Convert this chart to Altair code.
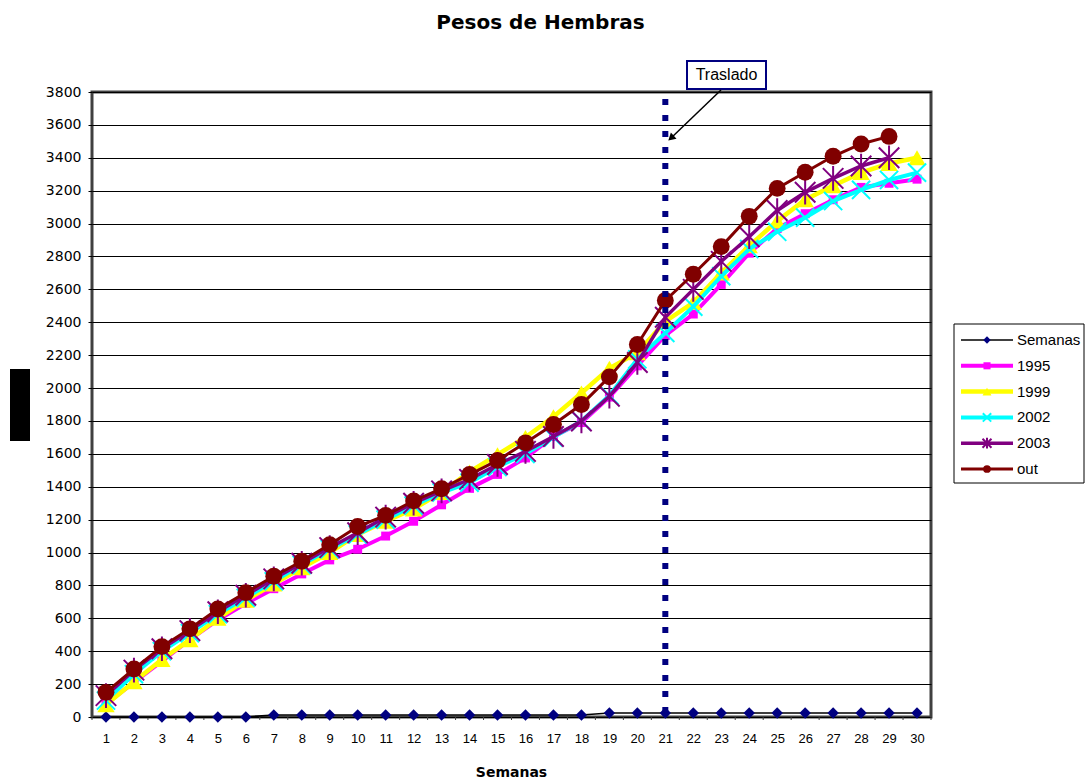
import altair as alt
import pandas as pd

# ---------------- data ----------------
weeks = [1, 2, 3, 4, 5, 6, 7, 8, 9, 10, 11, 12, 13, 14, 15,
         16, 17, 18, 19, 20, 21, 22, 23, 24, 25, 26, 27, 28, 29, 30]
semanas = [0, 0, 0, 0, 0, 0, 12, 12, 12, 12, 12, 12, 12, 12, 12,
           12, 12, 12, 24, 24, 24, 24, 24, 24, 24, 24, 24, 24, 24, 24]
peso_1995 = [80, 210, 340, 470, 590, 690, 780, 870, 955, 1020, 1100, 1190, 1290, 1390, 1475,
             1575, 1705, 1790, 1945, 2135, 2320, 2450, 2630, 2820, 2970, 3060, 3145, 3220, 3245, 3270]
peso_1999 = [75, 215, 350, 470, 600, 710, 808, 908, 1000, 1110, 1190, 1265, 1365, 1490, 1595,
             1700, 1825, 1970, 2120, 2215, 2405, 2520, 2700, 2865, 3015, 3145, 3230, 3310, 3365, 3400]
peso_2002 = [100, 260, 400, 510, 625, 725, 825, 925, 1020, 1110, 1200, 1285, 1365, 1425, 1520,
             1600, 1700, 1800, 1955, 2175, 2335, 2495, 2680, 2845, 2950, 3036, 3137, 3205, 3265, 3310]
peso_2003 = [130, 285, 415, 525, 640, 740, 840, 935, 1030, 1120, 1215, 1300, 1375, 1445, 1535,
             1615, 1705, 1800, 1950, 2155, 2430, 2600, 2770, 2920, 3080, 3190, 3275, 3350, 3400]
peso_out = [150, 292, 428, 536, 657, 756, 856, 947, 1048, 1158, 1226, 1314, 1388, 1474, 1560,
            1667, 1778, 1900, 2068, 2265, 2533, 2692, 2860, 3044, 3214, 3312, 3409, 3484, 3530]
series_names = ["Semanas", "1995", "1999", "2002", "2003", "out"]
y_ticks = [0, 200, 400, 600, 800, 1000, 1200, 1400, 1600, 1800, 2000,
           2200, 2400, 2600, 2800, 3000, 3200, 3400, 3600, 3800]
traslado_week = [21]
chart_title = "Pesos de Hembras"
x_title = "Semanas"
note_text = "Traslado"

series_values = dict(zip(series_names, [semanas, peso_1995, peso_1999, peso_2002, peso_2003, peso_out]))
long_df = pd.DataFrame([
    {"serie": n, "semana": w, "peso": v}
    for n in series_names for w, v in zip(weeks, series_values[n])
])
bounds_df = pd.DataFrame({"semana": [w - 0.5 for w in weeks] + [weeks[-1] + 0.5]})
traslado_df = pd.DataFrame({"semana": traslado_week})
legend_df = pd.DataFrame({"serie": series_names})
one_df = pd.DataFrame({"k": [0]})

# ---------------- styles ----------------
X_PATH = "M-1,-1L1,1M-1,1L1,-1"
AST_PATH = "M-1,-1L1,1M-1,1L1,-1M0,-1.2L0,1.2"
styles = {
    "Semanas": dict(line="#000000", lw=1.6, shape="diamond", mcol="#000080", filled=True, size=130, lsize=55),
    "1995": dict(line="#FF00FF", lw=4, shape="square", mcol="#FF00FF", filled=True, size=80, lsize=50),
    "1999": dict(line="#FFFF00", lw=4.5, shape="triangle-up", mcol="#FFFF00", filled=True, size=300, lsize=80),
    "2002": dict(line="#00FFFF", lw=4, shape=X_PATH, mcol="#00FFFF", filled=False, size=330, lsize=70),
    "2003": dict(line="#800080", lw=3.5, shape=AST_PATH, mcol="#800080", filled=False, size=420, lsize=80),
    "out": dict(line="#800000", lw=3, shape="circle", mcol="#800000", filled=True, size=285, lsize=60),
}

W, H = 839, 625

x_enc = alt.X(
    "semana:Q",
    scale=alt.Scale(domain=[0.5, 30.5], nice=False, zero=False),
    axis=alt.Axis(values=weeks, title=x_title, grid=False, domain=False, ticks=False, tickSize=0,
                  labelPadding=15, labelFont="Liberation Sans", labelFontSize=13, labelColor="black",
                  labelFlush=False, labelOverlap=False, format="d",
                  titleFont="DejaVu Sans", titleFontSize=14, titleFontWeight="bold", titleColor="black",
                  titleX=419, titleY=59, titleBaseline="alphabetic", titleAlign="center"),
)
y_enc = alt.Y(
    "peso:Q",
    scale=alt.Scale(domain=[0, 3800], nice=False, zero=True),
    axis=alt.Axis(values=y_ticks, title=None, grid=True, gridColor="black", gridWidth=1, gridOpacity=1,
                  domain=False, tickSize=4, tickColor="black", labelPadding=7,
                  labelFont="DejaVu Sans", labelFontSize=14, labelColor="black", format="d",
                  labelOverlap=False, labelFlush=False),
)

main_layers = []
# x-axis boundary ticks
main_layers.append(
    alt.Chart(bounds_df).mark_rule(color="#404040", strokeWidth=1).encode(
        x=x_enc, y=alt.value(H), y2=alt.value(H + 3))
)
for name in series_names:
    st = styles[name]
    base = alt.Chart(long_df).transform_filter(alt.datum.serie == name)
    main_layers.append(base.mark_line(color=st["line"], strokeWidth=st["lw"]).encode(x=x_enc, y=y_enc))
    if st["filled"]:
        pt = base.mark_point(shape=st["shape"], filled=True, color=st["mcol"], size=st["size"], opacity=1)
    else:
        pt = base.mark_point(shape=st["shape"], filled=False, color=st["mcol"], size=st["size"],
                             strokeWidth=2, opacity=1)
    main_layers.append(pt.encode(x=x_enc, y=y_enc))

# vertical "Traslado" line
main_layers.append(
    alt.Chart(traslado_df).mark_rule(color="#000080", strokeWidth=6, strokeDash=[6, 10],
                                     strokeDashOffset=9, strokeCap="butt").encode(
        x=x_enc, y=alt.value(0), y2=alt.value(H))
)
# annotation box, text and arrow
main_layers.append(
    alt.Chart(one_df).mark_rect(fill="white", stroke="#000080", strokeWidth=2).encode(
        x=alt.value(595), x2=alt.value(674), y=alt.value(-31), y2=alt.value(-3))
)
main_layers.append(
    alt.Chart(one_df).mark_text(text=note_text, font="Liberation Sans", fontSize=16, color="black",
                                align="center", baseline="middle").encode(
        x=alt.value(634.5), y=alt.value(-17))
)
main_layers.append(
    alt.Chart(one_df).mark_rule(color="black", strokeWidth=1.5).encode(
        x=alt.value(629), y=alt.value(-2), x2=alt.value(578), y2=alt.value(47))
)
main_layers.append(
    alt.Chart(one_df).mark_point(shape="triangle-up", filled=True, color="black", size=70, angle=228,
                                 opacity=1).encode(x=alt.value(579), y=alt.value(46))
)
# black block left of the axis
main_layers.append(
    alt.Chart(one_df).mark_rect(color="black").encode(
        x=alt.value(-82), x2=alt.value(-62), y=alt.value(277), y2=alt.value(349))
)
main = alt.layer(*main_layers)

# ---------------- legend ----------------
ly = alt.Y("serie:N", scale=alt.Scale(type="point", domain=series_names, range=[248, 377], padding=0),
           axis=None)
legend_layers = [
    alt.Chart(one_df).mark_rect(fill="white", stroke="black", strokeWidth=1).encode(
        x=alt.value(862), x2=alt.value(992), y=alt.value(232), y2=alt.value(391))
]
for name in series_names:
    st = styles[name]
    base = alt.Chart(legend_df).transform_filter(alt.datum.serie == name)
    legend_layers.append(base.mark_rule(color=st["line"], strokeWidth=st["lw"]).encode(
        x=alt.value(869), x2=alt.value(921), y=ly))
    if st["filled"]:
        pt = base.mark_point(shape=st["shape"], filled=True, color=st["mcol"], size=st["lsize"], opacity=1)
    else:
        pt = base.mark_point(shape=st["shape"], filled=False, color=st["mcol"], size=st["lsize"],
                             strokeWidth=2, opacity=1)
    legend_layers.append(pt.encode(x=alt.value(895), y=ly))
legend_layers.append(
    alt.Chart(legend_df).mark_text(align="left", baseline="middle", font="Liberation Sans",
                                   fontSize=15, color="black").encode(
        x=alt.value(925), y=ly, text="serie:N")
)
legend = alt.layer(*legend_layers)

chart = alt.layer(main, legend).resolve_scale(y="independent").properties(
    width=W, height=H,
    title=alt.TitleParams(chart_title, font="DejaVu Sans", fontSize=20, fontWeight="bold", color="black",
                          anchor="middle", frame="group", dx=29, offset=11, baseline="alphabetic"),
    autosize=alt.AutoSizeParams(type="none"),
    padding={"left": 92, "top": 92, "right": 158, "bottom": 63},
    background="white",
).configure_view(stroke="#404040", strokeWidth=3)

chart.save("out.html", embed_options={"renderer": "svg", "actions": False})
